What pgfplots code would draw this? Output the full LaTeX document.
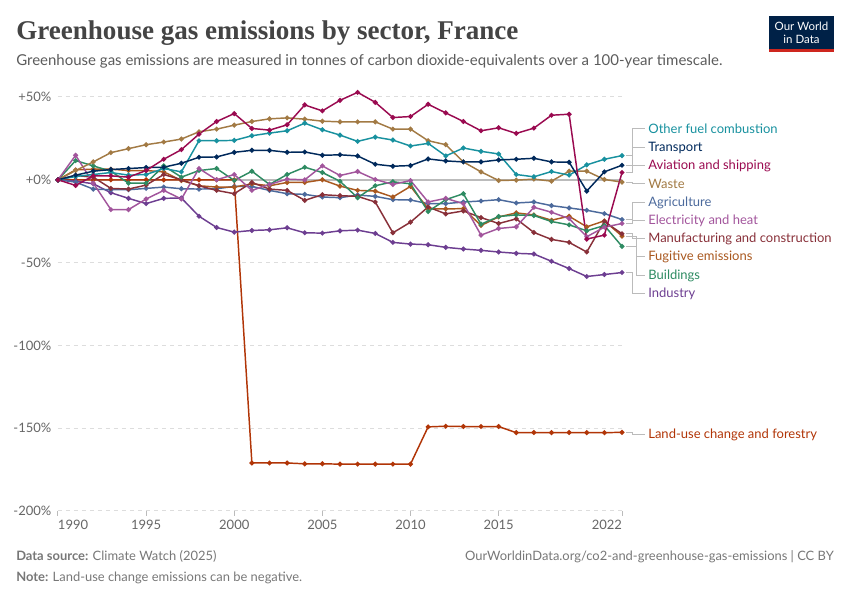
\documentclass[border=0pt]{standalone}
\usepackage{pgfplots}
\usepackage{pgfplotstable}
\pgfplotsset{compat=1.18}
\usepackage{fontspec}
\setmainfont{Lato}
\newfontfamily\titlefont{Liberation Serif}
\usepackage{xcolor}

\definecolor{cOther}{HTML}{18919F}
\definecolor{cTrans}{HTML}{00295B}
\definecolor{cAvi}{HTML}{9A0A50}
\definecolor{cWaste}{HTML}{A27A44}
\definecolor{cAgri}{HTML}{4C6A9C}
\definecolor{cElec}{HTML}{A2559C}
\definecolor{cManu}{HTML}{883039}
\definecolor{cFug}{HTML}{A9581F}
\definecolor{cBuild}{HTML}{2E8B62}
\definecolor{cInd}{HTML}{6D3E91}
\definecolor{cLand}{HTML}{B13507}
\definecolor{owidnavy}{HTML}{002147}
\definecolor{owidred}{HTML}{CE261E}
\definecolor{titlegray}{HTML}{444444}
\definecolor{subgray}{HTML}{5B5B5B}
\definecolor{footgray}{HTML}{777777}
\definecolor{tickgray}{HTML}{666666}
\definecolor{gridgray}{HTML}{DDDDDD}
\definecolor{linkgray}{HTML}{BBBBBB}

% change relative to 1990, percent
\pgfplotstableread{
year ofc  tra   avi   was   agr   ele   man   fug   bld   ind   luc
1990 0    0     0     0     0     0     0     0     0     0     0
1991 2    2.8   -3.4  5.6   -1.4  14.8  2.6   6     11.6  -0.8  0
1992 3.2  5.2   2.4   10.8  -5.6  -2    1.6   6.4   8.4   -2.4  0
1993 4.4  6.2   2.4   16.4  -6    -18   -5.2  6.4   5.2   -7.8  0
1994 2.8  6.8   1.6   18.8  -6    -18   -5.6  5.6   -2    -11.2 0
1995 3.2  7.4   5.6   21.2  -5.2  -11.6 -3.2  5.6   -2    -14.4 0
1996 6.8  7.6   12.4  22.8  -4.4  -6.4  3.2   4.8   8.4   -11.2 0
1997 4.8  10    18.2  24.6  -5.4  -11.6 0     -0.4  1.6   -11   0
1998 23.6 13.6  27.6  29    -5.6  6.8   -3.6  -3.6  5.6   -22   0
1999 23.6 13.8  35.2  30.6  -5.4  0     -6.4  -4.4  6.8   -28.8 0
2000 23.8 16.6  40    33    -4    3.2   -8.4  -4.4  -0.4  -31.6 0
2001 26.6 17.8  31    35.2  -4    -6.4  -1.6  -2.4  5.2   -30.6 -171
2002 28.2 17.8  30    36.8  -6.4  -2.8  -5.6  -3.6  -2.8  -30.2 -171
2003 29.6 16.6  33.2  37.4  -8.4  0.4   -6.4  -1.6  3.2   -29   -171
2004 34.2 16.8  45.2  36.6  -8.8  0     -12.4 -1.6  7.6   -32   -171.5
2005 30.2 14.8  41.6  35.4  -10.4 8.4   -9    0     4.4   -32.2 -171.5
2006 27   15.1  48    35    -10.8 2.6   -9.6  -3.8  -0.9  -30.8 -171.7
2007 23.2 14.4  52.8  35    -9.2  5     -10   -6.4  -10.8 -30.4 -171.7
2008 25.8 9.4   46.8  35    -10   0.2   -13.4 -6.8  -3.6  -32.4 -171.7
2009 24   8.2   37.6  30.6  -12   -2.8  -32   -10.4 -1.2  -37.8 -171.7
2010 20.4 8.6   38.2  30.6  -12.2 -0.4  -25.6 -4    -2.4  -38.8 -171.7
2011 22   12.6  45.6  23.6  -14.4 -13.4 -16.4 -17.4 -19.2 -39.2 -149.2
2012 14.4 11.4  40.4  21.2  -14.4 -11.2 -20.6 -17.6 -12   -40.8 -148.8
2013 19.2 10.8  35.2  10.8  -13.4 -14.4 -18.8 -17.4 -8.4  -41.8 -149
2014 17.2 10.8  29.6  4.8   -12.8 -33.4 -22.8 -27.6 -26.8 -42.6 -149
2015 15.6 12    31.4  -0.4  -12   -29.4 -26.4 -22.4 -22.2 -43.6 -149
2016 3.2  12.4  28    -0.2  -14   -28.4 -23.6 -20   -21.2 -44.4 -152.7
2017 1.8  13    31.2  0.4   -13.4 -16.6 -31.8 -21.2 -21.6 -44.8 -152.6
2018 5    10.8  39    -0.8  -15.6 -19.6 -36   -24.4 -25.2 -49.2 -152.7
2019 2.8  10.6  39.6  5.2   -17   -23.4 -37.8 -22   -27.2 -53.6 -152.6
2020 9    -6.8  -35.8 5.2   -18.4 -34.4 -43.6 -28.4 -30.8 -58.4 -152.7
2021 12.4 4.8   -33.4 0.2   -20.4 -28.6 -25.2 -24.8 -27.6 -57.2 -152.7
2022 14.6 8.8   4.4   -1.4  -24   -26.4 -32.6 -34   -40.2 -56   -152.5
}\ghg

\newcommand{\lbl}{\fontsize{9.75pt}{11pt}\selectfont}

\begin{document}
\begin{tikzpicture}
\begin{scope}[x=0.75pt,y=0.75pt]
\path[use as bounding box] (0,0) rectangle (850,600);

% header
\node[anchor=base west, inner sep=0, text=titlegray]
  at (16,560) {\titlefont\bfseries\fontsize{20.3pt}{23pt}\selectfont Greenhouse gas emissions by sector, France};
\node[anchor=base west, inner sep=0, text=subgray]
  at (16,534) {\fontsize{11.25pt}{13pt}\selectfont Greenhouse gas emissions are measured in tonnes of carbon dioxide-equivalents over a 100-year timescale.};

% logo
\fill[owidnavy] (769,548) rectangle (834,584);
\fill[owidred] (769,548) rectangle (834,551);
\node[text=white, align=center, inner sep=0, font=\fontsize{8.6pt}{9.6pt}\selectfont]
  at (801.5,567) {Our World\\in Data};

% footer
\node[anchor=base west, inner sep=0, text=footgray]
  at (16,40) {\fontsize{9.7pt}{11pt}\selectfont\textbf{Data source:} Climate Watch (2025)};
\node[anchor=base east, inner sep=0, text=footgray]
  at (834,40) {\fontsize{9.7pt}{11pt}\selectfont OurWorldinData.org/co2-and-greenhouse-gas-emissions | CC BY};
\node[anchor=base west, inner sep=0, text=footgray]
  at (16,18) {\fontsize{9.7pt}{11pt}\selectfont\textbf{Note:} Land-use change emissions can be negative.};
\end{scope}

\begin{axis}[
  at={(43.5pt,66.75pt)}, anchor=south west,
  scale only axis,
  width=423pt, height=310.5pt,
  xmin=1990, xmax=2022,
  ymin=-200, ymax=50,
  clip=false,
  axis line style={draw=none},
  xtick={1990,1995,2000,2005,2010,2015,2022},
  xticklabels={\makebox[0pt][l]{1990},1995,2000,2005,2010,2015,\makebox[0pt][r]{2022}},
  xtick pos=bottom,
  x tick style={draw=linkgray, line width=0.75pt},
  tick align=outside,
  major tick length=3.5pt,
  ytick={-200,-150,-100,-50,50},
  yticklabels={-200\%,-150\%,-100\%,-50\%,+50\%},
  extra y ticks={0},
  extra y tick labels={+0\%},
  extra y tick style={grid style={draw=linkgray, solid, line width=1.1pt}},
  y tick style={draw=none},
  ymajorgrids,
  grid style={draw=gridgray, dash pattern=on 3pt off 3pt, line width=0.75pt},
  ticklabel style={font=\lbl, text=tickgray},
  yticklabel style={xshift=2pt},
  every axis plot/.append style={line width=1.1pt, mark=*, mark size=1.25pt},
]
\addplot[cLand]  table[x=year,y=luc] {\ghg};
\addplot[cInd]   table[x=year,y=ind] {\ghg};
\addplot[cAgri]  table[x=year,y=agr] {\ghg};
\addplot[cFug]   table[x=year,y=fug] {\ghg};
\addplot[cManu]  table[x=year,y=man] {\ghg};
\addplot[cBuild] table[x=year,y=bld] {\ghg};
\addplot[cElec]  table[x=year,y=ele] {\ghg};
\addplot[cWaste] table[x=year,y=was] {\ghg};
\addplot[cOther] table[x=year,y=ofc] {\ghg};
\addplot[cTrans] table[x=year,y=tra] {\ghg};
\addplot[cAvi]   table[x=year,y=avi] {\ghg};

% end labels with connectors
\foreach \yv/\ly/\ex/\col/\txt in {
   14.6/30.8/2022.6/cOther/Other fuel combustion,
   8.8/19.3/2022.6/cTrans/Transport,
   4.4/8.5/2022.6/cAvi/Aviation and shipping,
   -1.4/-2.4/2022.6/cWaste/Waste,
   -24/-13.9/2022.6/cAgri/Agriculture,
   -26.4/-24.8/2022.6/cElec/Electricity and heat,
   -32.6/-35.6/2022.6/cManu/Manufacturing and construction,
   -34/-46.5/2022.85/cFug/Fugitive emissions,
   -40.2/-58/2022.85/cBuild/Buildings,
   -56/-68.8/2022.6/cInd/Industry,
   -152.5/-154/2022.6/cLand/Land-use change and forestry}{
  \edef\tmp{\noexpand\draw[linkgray, line width=0.75pt]
    (axis cs:2022.25,\yv) -- (axis cs:\ex,\yv) -- (axis cs:\ex,\ly) -- (axis cs:2023.3,\ly);}
  \tmp
  \edef\tmp{\noexpand\node[anchor=west, inner sep=0, text=\col, font=\noexpand\lbl]
    at (axis cs:2023.48,\ly) {\txt};}
  \tmp
}
\end{axis}
\end{tikzpicture}
\end{document}
